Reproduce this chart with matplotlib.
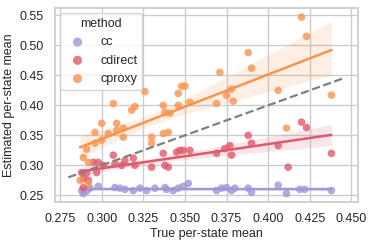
import matplotlib
matplotlib.use("Agg")
import matplotlib.pyplot as plt
import seaborn as sns
import numpy as np

# values
cc_x = [0.288, 0.289, 0.291, 0.293, 0.298, 0.308, 0.311, 0.314, 0.319, 0.323,
        0.327, 0.332, 0.338, 0.339, 0.343, 0.346, 0.349, 0.352, 0.369, 0.372,
        0.375, 0.378, 0.380, 0.388, 0.390, 0.406, 0.411, 0.419, 0.422, 0.438]
cc_y = [0.258, 0.253, 0.257, 0.262, 0.265, 0.263, 0.262, 0.260, 0.258, 0.262,
        0.258, 0.262, 0.263, 0.260, 0.258, 0.262, 0.265, 0.270, 0.258, 0.262,
        0.263, 0.258, 0.262, 0.262, 0.255, 0.267, 0.253, 0.260, 0.260, 0.258]

cdirect_x = [0.288, 0.289, 0.289, 0.291, 0.292, 0.295, 0.298, 0.297, 0.301, 0.307,
             0.308, 0.312, 0.314, 0.319, 0.320, 0.330, 0.337, 0.338, 0.340, 0.345,
             0.347, 0.349, 0.353, 0.369, 0.374, 0.377, 0.378, 0.388, 0.390, 0.406,
             0.412, 0.420, 0.423, 0.438]
cdirect_y = [0.288, 0.278, 0.263, 0.287, 0.275, 0.305, 0.305, 0.288, 0.300, 0.317,
             0.303, 0.300, 0.308, 0.312, 0.300, 0.297, 0.320, 0.300, 0.297, 0.322,
             0.325, 0.325, 0.325, 0.320, 0.328, 0.333, 0.317, 0.350, 0.337, 0.333,
             0.297, 0.372, 0.363, 0.320]

cproxy_x = [0.287, 0.292, 0.289, 0.291, 0.292, 0.296, 0.296, 0.300, 0.300, 0.304,
            0.307, 0.309, 0.309, 0.313, 0.313, 0.318, 0.320, 0.326, 0.330, 0.330,
            0.337, 0.337, 0.338, 0.340, 0.341, 0.346, 0.346, 0.348, 0.350, 0.353,
            0.369, 0.371, 0.375, 0.378, 0.379, 0.388, 0.390, 0.406, 0.411, 0.420,
            0.423, 0.438]
cproxy_y = [0.275, 0.270, 0.313, 0.327, 0.305, 0.337, 0.355, 0.370, 0.342, 0.353,
            0.403, 0.370, 0.358, 0.362, 0.347, 0.392, 0.398, 0.423, 0.347, 0.337,
            0.400, 0.353, 0.388, 0.355, 0.387, 0.400, 0.420, 0.432, 0.432, 0.405,
            0.403, 0.455, 0.417, 0.427, 0.407, 0.488, 0.462, 0.425, 0.362, 0.547,
            0.515, 0.417]

identity = [0.28, 0.445]

methods = ["cc", "cdirect", "cproxy"]
colors = {"cc": "#a096d8", "cdirect": "#e2596b", "cproxy": "#fb9350"}
data = {"cc": (cc_x, cc_y), "cdirect": (cdirect_x, cdirect_y), "cproxy": (cproxy_x, cproxy_y)}

sns.set_theme(style="whitegrid")
plt.rcParams["font.family"] = ["Liberation Sans", "DejaVu Sans"]

fig = plt.figure(figsize=(3.73, 2.46), dpi=100)
ax = fig.add_axes([0.1475, 0.179, 0.8125, 0.788])

for m in methods:
    x, y = data[m]
    ax.scatter(x, y, s=30, color=colors[m], alpha=0.8, edgecolor="none", label=m, zorder=3)
    sns.regplot(x=np.array(x), y=np.array(y), ax=ax, scatter=False, ci=95, seed=0,
                color=colors[m], line_kws={"lw": 1.8})

ax.plot(identity, identity, ls="--", color="gray", lw=1.6, zorder=4)

ax.set_xlim(0.272, 0.454)
ax.set_ylim(0.239, 0.562)
ax.set_xticks([0.275, 0.300, 0.325, 0.350, 0.375, 0.400, 0.425, 0.450])
ax.set_yticks([0.25, 0.30, 0.35, 0.40, 0.45, 0.50, 0.55])
ax.tick_params(labelsize=9, pad=2)
ax.set_xlabel("True per-state mean", fontsize=9, labelpad=2)
ax.set_ylabel("Estimated per-state mean", fontsize=9, labelpad=3)

leg = ax.legend(title="method", loc="upper left", fontsize=9, title_fontsize=9,
                frameon=True, handletextpad=0.8, markerscale=1.2, borderaxespad=0.4)

fig.savefig("out.png", dpi=100)
